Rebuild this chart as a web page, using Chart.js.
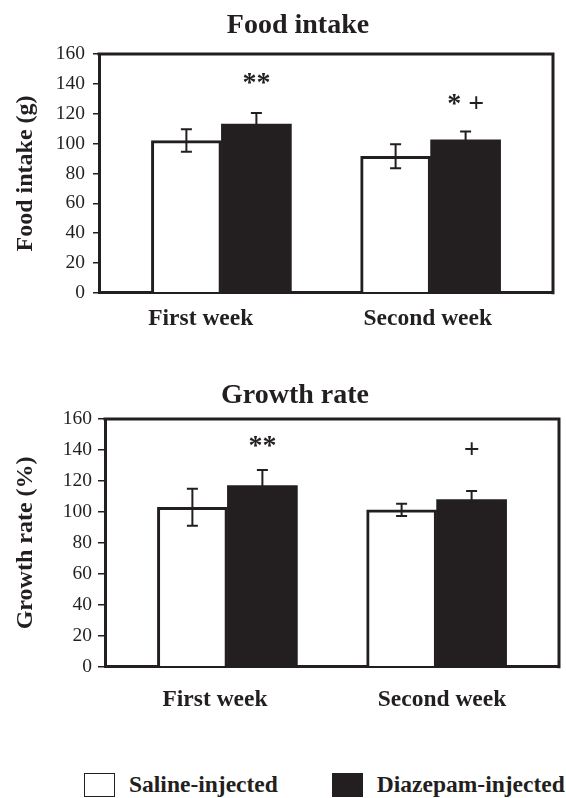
<!DOCTYPE html>
<html>
<head>
<meta charset="utf-8">
<script src="https://cdn.jsdelivr.net/npm/chart.js@4.4.1/dist/chart.umd.min.js"></script>
<style>
  html, body { margin: 0; padding: 0; background: #fff; overflow: hidden; }
  #food-box { position: absolute; left: 0; top: 0; width: 566px; height: 346px; }
  #growth-box { position: absolute; left: 0; top: 340px; width: 566px; height: 393px; }
  #legend { position: absolute; left: 84px; top: 771px; display: flex; align-items: center;
            font: bold 23.5px "Liberation Serif", serif; color: #231f20; white-space: nowrap; }
  #legend .item { display: flex; align-items: center; margin-right: 54px; }
  #legend .box { width: 31px; height: 24px; box-sizing: border-box; margin-right: 14px; }
</style>
</head>
<body>
<div id="food-box"><canvas id="food"></canvas></div>
<div id="growth-box"><canvas id="growth"></canvas></div>
<div id="legend"></div>
<script>
// categories and groups
var weeks = ['First week', 'Second week'];
var weekPos = [1, 2];
var groups = ['Saline-injected', 'Diazepam-injected'];

// food intake (g), mean and error
var foodSaline = [102, 91.5];
var foodSalineErr = [7.5, 8];
var foodDiazepam = [113, 102.5];
var foodDiazepamErr = [7.5, 5.5];
var foodMarks = ['**', '* +'];

// growth rate (%), mean and error
var growthSaline = [103, 101.3];
var growthSalineErr = [12, 4];
var growthDiazepam = [117, 108];
var growthDiazepamErr = [10, 5.5];
var growthMarks = ['**', '+'];

// y axis ticks
var yMin = 0;
var yMax = 160;
var yStep = 20;

var ink = '#231f20';
var serif = '"Liberation Serif", "Times New Roman", serif';

function points(values) {
  return weekPos.map(function(x, i) { return {x: x, y: values[i]}; });
}

// error bars drawn through the y scale
var errorBars = {
  id: 'errorBars',
  afterDatasetsDraw: function(chart) {
    var ctx = chart.ctx, y = chart.scales.y;
    ctx.save();
    ctx.strokeStyle = ink;
    ctx.lineWidth = 2;
    chart.data.datasets.forEach(function(ds, i) {
      chart.getDatasetMeta(i).data.forEach(function(bar, j) {
        var v = ds.data[j].y, e = ds.errors[j];
        var hi = y.getPixelForValue(v + e), lo = y.getPixelForValue(v - e);
        ctx.beginPath();
        ctx.moveTo(bar.x, hi); ctx.lineTo(bar.x, lo);
        ctx.moveTo(bar.x - 5.5, hi); ctx.lineTo(bar.x + 5.5, hi);
        ctx.moveTo(bar.x - 5.5, lo); ctx.lineTo(bar.x + 5.5, lo);
        ctx.stroke();
      });
    });
    ctx.restore();
  }
};

// significance marks above the diazepam bars
var sigMarks = {
  id: 'sigMarks',
  afterDatasetsDraw: function(chart, args, opts) {
    var ctx = chart.ctx, y = chart.scales.y;
    var meta = chart.getDatasetMeta(1);
    ctx.save();
    ctx.fillStyle = ink;
    ctx.font = 'bold 28px ' + serif;
    ctx.textAlign = 'center';
    ctx.textBaseline = 'middle';
    meta.data.forEach(function(bar, j) {
      ctx.fillText(opts.marks[j], bar.x, y.getPixelForValue(opts.levels[j]));
    });
    ctx.restore();
  }
};

// top and right sides of the box
var frame = {
  id: 'frame',
  afterDraw: function(chart) {
    var a = chart.chartArea, ctx = chart.ctx;
    ctx.save();
    ctx.strokeStyle = ink;
    ctx.lineWidth = 3;
    ctx.beginPath();
    ctx.moveTo(a.left - 1.5, a.top);
    ctx.lineTo(a.right, a.top);
    ctx.lineTo(a.right, a.bottom + 1.5);
    ctx.stroke();
    ctx.restore();
  }
};

var panelTitle = {
  id: 'panelTitle',
  afterDraw: function(chart, args, opts) {
    var ctx = chart.ctx;
    ctx.save();
    ctx.fillStyle = ink;
    ctx.font = 'bold 28px ' + serif;
    ctx.textAlign = 'center';
    ctx.textBaseline = 'middle';
    ctx.fillText(opts.text, opts.x, opts.y);
    ctx.restore();
  }
};

function panel(id, o) {
  return new Chart(document.getElementById(id), {
    type: 'bar',
    data: {
      datasets: [{
        label: groups[0],
        data: points(o.saline),
        errors: o.salineErr,
        backgroundColor: '#ffffff',
        borderColor: ink,
        borderWidth: 3,
        borderSkipped: 'bottom',
        barThickness: 70
      }, {
        label: groups[1],
        data: points(o.diazepam),
        errors: o.diazepamErr,
        backgroundColor: ink,
        borderColor: ink,
        borderWidth: 0,
        barThickness: 70
      }]
    },
    plugins: [errorBars, sigMarks, frame, panelTitle],
    options: {
      responsive: true,
      maintainAspectRatio: false,
      animation: false,
      layout: { padding: o.padding },
      scales: {
        x: {
          type: 'linear',
          display: false,
          offset: false,
          min: 0.415,
          max: 2.585
        },
        xcat: {
          type: 'category',
          position: 'bottom',
          labels: weeks,
          min: 0,
          max: 1,
          offset: true,
          grid: { display: false, drawTicks: false },
          border: { display: true, color: ink, width: 3 },
          ticks: {
            color: ink,
            padding: o.xPad,
            labelOffset: o.xShift,
            font: { family: serif, size: 23.5, weight: 'bold' }
          }
        },
        y: {
          min: yMin,
          max: yMax,
          afterFit: function(s) { s.width = o.yWidth; },
          grid: { drawOnChartArea: false, color: ink, lineWidth: 1.5, tickLength: o.tickLen },
          border: { display: true, color: ink, width: 3 },
          ticks: {
            stepSize: yStep,
            color: ink,
            padding: o.tickPad,
            font: { family: serif, size: 19.5 }
          },
          title: {
            display: true,
            text: o.yTitle,
            color: ink,
            padding: { top: 11, bottom: 0 },
            font: { family: serif, size: 24, weight: 'bold' }
          }
        }
      },
      plugins: {
        tooltip: { enabled: false },
        legend: { display: false },
        panelTitle: { text: o.title, x: o.titleX, y: o.titleY },
        sigMarks: { marks: o.marks, levels: o.markLevels }
      }
    }
  });
}

panel('food', {
  title: 'Food intake', titleX: 298, titleY: 26,
  yTitle: 'Food intake (g)',
  saline: foodSaline, salineErr: foodSalineErr,
  diazepam: foodDiazepam, diazepamErr: foodDiazepamErr,
  marks: foodMarks, markLevels: [140, 126],
  padding: { top: 54, left: 0, right: 13, bottom: 0 },
  yWidth: 99, tickLen: 6, tickPad: 8,
  xPad: 12.5, xShift: -11.75
});

var growth = panel('growth', {
  title: 'Growth rate', titleX: 295, titleY: 56,
  yTitle: 'Growth rate (%)',
  saline: growthSaline, salineErr: growthSalineErr,
  diazepam: growthDiazepam, diazepamErr: growthDiazepamErr,
  marks: growthMarks, markLevels: [142, 139.5],
  padding: { top: 79, left: 0, right: 7, bottom: 0 },
  yWidth: 105, tickLen: 7, tickPad: 6,
  xPad: 19, xShift: -3.5
});

// html legend built from the chart's own legend items
var legendEl = document.getElementById('legend');
Chart.defaults.plugins.legend.labels.generateLabels(growth).forEach(function(item) {
  var row = document.createElement('span');
  row.className = 'item';
  var box = document.createElement('span');
  box.className = 'box';
  box.style.background = item.fillStyle;
  box.style.border = '1.5px solid ' + ink;
  row.appendChild(box);
  row.appendChild(document.createTextNode(item.text));
  legendEl.appendChild(row);
});
</script>
</body>
</html>
